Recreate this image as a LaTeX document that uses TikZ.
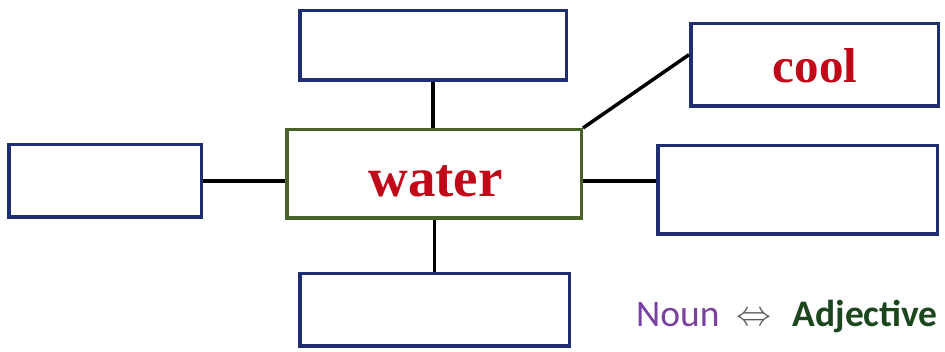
\documentclass[tikz,border=0pt]{standalone}
\usepackage{fontspec}
\setmainfont{Liberation Serif}
\newfontfamily\calib{Carlito}
\usetikzlibrary{calc}
\definecolor{navy}{RGB}{31,46,112}
\definecolor{boxgreen}{RGB}{72,98,42}
\definecolor{wordred}{RGB}{192,8,24}
\definecolor{nounpurple}{RGB}{122,66,160}
\definecolor{adjgreen}{RGB}{28,70,30}
\definecolor{arrowgray}{RGB}{90,90,90}
\tikzset{
  wordbox/.style={draw=navy, line width=3.5pt, fill=white, inner sep=0pt},
  hubbox/.style={draw=boxgreen, line width=3.5pt, fill=white, inner sep=0pt},
  link/.style={draw=black, line width=3.5pt},
  bigword/.style={text=wordred, font=\bfseries\fontsize{55}{55}\selectfont},
  smallword/.style={text=wordred, font=\bfseries\fontsize{49}{49}\selectfont}
}
\begin{document}
\begin{tikzpicture}[x=1pt,y=-1pt]
\useasboundingbox (0,0) rectangle (945,352);
\node[wordbox, minimum width=266.5pt, minimum height=69.5pt] (top) at (433,45.5) {};
\node[hubbox, minimum width=294.5pt, minimum height=88.5pt] (hub) at (434,174) {};
\node[bigword, anchor=base] (water) at (435.5,197) {water};
\node[wordbox, minimum width=192.5pt, minimum height=72.5pt] (left) at (105,181) {};
\node[wordbox, minimum width=279.5pt, minimum height=88.5pt] (right) at (797.5,190) {};
\node[wordbox, minimum width=247.5pt, minimum height=82.5pt] (cool) at (814.5,65) {};
\node[smallword, anchor=base] (coolw) at (815,83) {cool};
\node[wordbox, minimum width=269.5pt, minimum height=72.5pt] (bottom) at (434.5,310) {};
\node[anchor=base west, inner sep=0pt, font=\calib\fontsize{37.5}{37.5}\selectfont] (legend) at (636,327)
  {\textcolor{nounpurple}{Noun}\hspace{17pt}\textcolor{arrowgray}{\raisebox{1pt}{\resizebox{35pt}{!}{$\Leftrightarrow$}}}\hspace{21pt}\textcolor{adjgreen}{\bfseries Adjective}};
\draw[link] (top.south) -- (hub.north -| top.south);
\draw[link] (hub.south -| bottom.north) -- (bottom.north);
\draw[link] (left.east) -- (hub.west |- left.east);
\draw[link] (hub.east |- left.east) -- (right.west |- left.east);
\draw[link] (hub.north east) -- ($(cool.north west)!0.38!(cool.south west)$);
\end{tikzpicture}
\end{document}
